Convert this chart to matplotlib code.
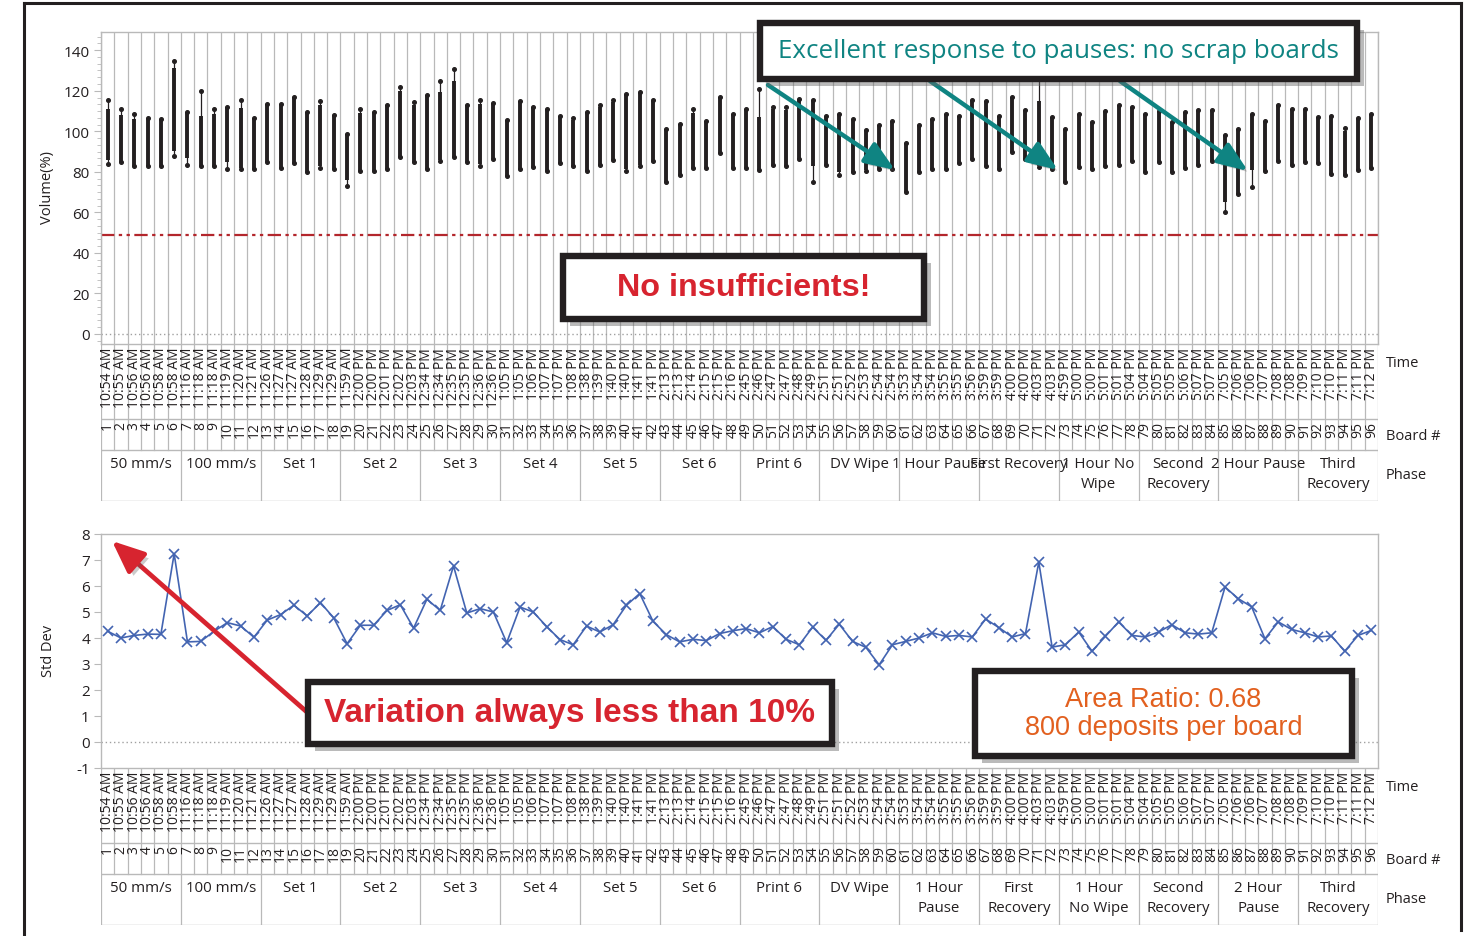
import matplotlib
matplotlib.use("Agg")
import matplotlib.pyplot as plt
import matplotlib.patheffects as pe
from matplotlib.patches import Rectangle, FancyArrowPatch
from matplotlib.ticker import AutoMinorLocator

plt.rcParams['font.family'] = ['Open Sans', 'DejaVu Sans']
plt.rcParams['axes.unicode_minus'] = False

boards = list(range(1, 97))
times = ["10:54 AM", "10:55 AM", "10:56 AM", "10:56 AM", "10:58 AM", "10:58 AM",
         "11:16 AM", "11:18 AM", "11:18 AM", "11:19 AM", "11:20 AM", "11:21 AM",
         "11:26 AM", "11:27 AM", "11:27 AM", "11:28 AM", "11:29 AM", "11:29 AM",
         "11:59 AM", "12:00 PM", "12:00 PM", "12:01 PM", "12:02 PM", "12:03 PM",
         "12:34 PM", "12:34 PM", "12:35 PM", "12:35 PM", "12:36 PM", "12:36 PM",
         "1:05 PM", "1:05 PM", "1:06 PM", "1:07 PM", "1:07 PM", "1:08 PM",
         "1:38 PM", "1:39 PM", "1:40 PM", "1:40 PM", "1:41 PM", "1:41 PM",
         "2:13 PM", "2:13 PM", "2:14 PM", "2:15 PM", "2:15 PM", "2:16 PM",
         "2:45 PM", "2:46 PM", "2:47 PM", "2:47 PM", "2:48 PM", "2:49 PM",
         "2:51 PM", "2:51 PM", "2:52 PM", "2:53 PM", "2:54 PM", "2:54 PM",
         "3:53 PM", "3:54 PM", "3:54 PM", "3:55 PM", "3:55 PM", "3:56 PM",
         "3:59 PM", "3:59 PM", "4:00 PM", "4:00 PM", "4:03 PM", "4:03 PM",
         "4:59 PM", "5:00 PM", "5:00 PM", "5:01 PM", "5:01 PM", "5:04 PM",
         "5:04 PM", "5:05 PM", "5:05 PM", "5:06 PM", "5:07 PM", "5:07 PM",
         "7:05 PM", "7:06 PM", "7:06 PM", "7:07 PM", "7:08 PM", "7:08 PM",
         "7:09 PM", "7:10 PM", "7:10 PM", "7:11 PM", "7:11 PM", "7:12 PM"]
phases_top = ['50 mm/s', '100 mm/s', 'Set 1', 'Set 2', 'Set 3', 'Set 4', 'Set 5',
              'Set 6', 'Print 6', 'DV Wipe', '1 Hour Pause', 'First Recovery',
              '1 Hour No\nWipe', 'Second\nRecovery', '2 Hour Pause', 'Third\nRecovery']
phases_bottom = ['50 mm/s', '100 mm/s', 'Set 1', 'Set 2', 'Set 3', 'Set 4', 'Set 5',
                 'Set 6', 'Print 6', 'DV Wipe', '1 Hour\nPause', 'First\nRecovery',
                 '1 Hour\nNo Wipe', 'Second\nRecovery', '2 Hour\nPause', 'Third\nRecovery']

# volume range per board (thin line) and main body (thick line)
vol_min = [84, 85, 83, 83, 83, 88, 83.5, 83, 83, 81.5,
           81.5, 81.5, 85, 82, 84.5, 80, 82, 81.5, 73, 80.5,
           80.5, 81.5, 87.5, 85, 81.5, 85.5, 87.5, 85, 83, 86.5,
           78, 81.5, 82.5, 80.5, 84.5, 83, 80.5, 83.5, 86, 80.5,
           83, 85.5, 75, 78.5, 82, 82, 89.5, 82, 82, 81,
           83.5, 83, 86.5, 75, 83.5, 78.5, 80, 80.5, 81.5, 81.5,
           70, 80, 81.5, 81.5, 84.5, 86.5, 83, 81.5, 90, 86.5,
           82.5, 81.5, 75, 82.5, 81.5, 83, 83.5, 85.5, 80, 85,
           80, 82, 83.5, 85.5, 60, 69, 72.5, 80.5, 85.5, 83.5,
           85, 84.5, 79, 78.5, 81, 82]
vol_max = [115.5, 111, 108.5, 106.5, 106, 134.5, 109.5, 120, 111, 112,
           115.5, 106.5, 113.5, 113.5, 117, 109.5, 115, 108, 98.5, 111,
           109.5, 113, 122, 114.5, 118, 125, 130.5, 113, 115.5, 114,
           105.5, 115, 112, 111, 107.5, 106.5, 109.5, 113, 115.5, 118.5,
           119.5, 115.5, 101, 103.5, 111, 105, 117, 108.5, 111, 121,
           112, 112, 116, 115.5, 107.5, 108.5, 106, 100.5, 103, 105,
           94, 103, 106, 108.5, 107.5, 115.5, 115, 107.5, 117, 110.5,
           126, 107, 101, 108.5, 104.5, 110, 113, 112, 108.5, 110,
           104.5, 109.5, 110.5, 110.5, 98, 101, 108.5, 105, 113, 111,
           111, 107, 107.5, 101.5, 106.5, 108.5]
box_lo = [86, 85, 83, 83, 83, 90.5, 87, 83, 83, 85,
          82, 81.5, 85, 82, 84.5, 80, 83, 81.5, 76, 80.5,
          80.5, 81.5, 87.5, 85, 81.5, 86, 87.5, 85, 84, 86.5,
          78, 81.5, 82.5, 80.5, 84.5, 83, 80.5, 83.5, 86, 81.5,
          83.5, 85.5, 75, 78.5, 82, 82, 89.5, 82, 82, 81,
          83.5, 83, 86.5, 83, 83.5, 80, 80, 81, 81.5, 81.5,
          70, 80, 81.5, 81.5, 84.5, 86.5, 83, 81.5, 90, 86.5,
          83, 81.5, 75, 82.5, 81.5, 83, 83.5, 85.5, 80, 85,
          80, 82, 83.5, 85.5, 65, 69, 81, 80.5, 85.5, 83.5,
          85, 84.5, 79, 78.5, 81, 82]
box_hi = [111, 108, 106, 106.5, 106, 131, 109.5, 107.5, 108.5, 112,
          111.5, 106.5, 113.5, 113.5, 117, 109.5, 113, 108, 98.5, 109,
          109.5, 113, 120, 113, 118, 119.5, 125, 113, 113.5, 114,
          105.5, 115, 112, 111, 107.5, 105.5, 109.5, 112, 114.5, 118,
          119, 115, 101, 103.5, 109, 105, 117, 108.5, 111, 107,
          111, 110.5, 116, 115.5, 107.5, 108.5, 105.5, 100.5, 103, 105,
          94, 103, 106, 108.5, 107.5, 115.5, 115, 107.5, 117, 110.5,
          115, 107, 101, 108.5, 104.5, 110, 113, 112, 108.5, 110,
          104.5, 109.5, 110.5, 110.5, 98, 101, 108.5, 105, 113, 111,
          111, 107, 107.5, 100, 106.5, 108.5]
insufficient_limit = 49

std_dev = [4.26, 4.0, 4.1, 4.15, 4.14, 7.24, 3.85, 3.87, 4.26, 4.59,
           4.46, 4.03, 4.69, 4.9, 5.26, 4.85, 5.36, 4.77, 3.78, 4.49,
           4.49, 5.06, 5.28, 4.38, 5.49, 5.06, 6.77, 4.96, 5.13, 5.0,
           3.82, 5.19, 5.0, 4.44, 3.94, 3.74, 4.46, 4.23, 4.51, 5.26,
           5.71, 4.64, 4.13, 3.85, 3.95, 3.9, 4.17, 4.28, 4.36, 4.2,
           4.44, 3.95, 3.74, 4.42, 3.91, 4.53, 3.87, 3.64, 2.97, 3.74,
           3.87, 4.0, 4.2, 4.06, 4.1, 4.04, 4.73, 4.4, 4.04, 4.17,
           6.92, 3.65, 3.74, 4.23, 3.49, 4.06, 4.62, 4.1, 4.04, 4.23,
           4.51, 4.2, 4.15, 4.2, 5.96, 5.51, 5.2, 3.97, 4.62, 4.33,
           4.2, 4.04, 4.08, 3.49, 4.1, 4.29]

W, H = 1467, 937
GRID = '#b9b9b9'
INK = '#231f20'
TEAL = '#0f8482'
RED = '#d7242f'
ORANGE = '#e2601f'

fig = plt.figure(figsize=(W / 100, H / 100), dpi=100)


def rect_px(l, t, r, b):
    return [l / W, 1 - b / H, (r - l) / W, (b - t) / H]


def style_axes(ax):
    ax.set_xlim(0.5, 96.5)
    ax.set_xticks([])
    for s in ax.spines.values():
        s.set_color(GRID)
        s.set_linewidth(1)
    ax.tick_params(axis='y', which='major', length=5, color=GRID, labelsize=11,
                   labelcolor=INK, pad=3)


def draw_table(top, phase_labels):
    tb = fig.add_axes(rect_px(101, top, 1378, top + 157))
    tb.set_xlim(0.5, 96.5)
    tb.set_ylim(157, 0)
    tb.axis('off')
    for k in range(97):
        tb.plot([k + 0.5, k + 0.5], [0, 106], color=GRID, lw=0.9)
    for k in range(0, 97, 6):
        tb.plot([k + 0.5, k + 0.5], [106, 157], color=GRID, lw=0.9)
    for yy in (75, 106, 157):
        tb.plot([0.5, 96.5], [yy, yy], color=GRID, lw=1)
    for b, t in zip(boards, times):
        tb.text(b, 3, t, rotation=90, ha='center', va='top', fontsize=10, color=INK)
        tb.text(b, 77, str(b), rotation=90, ha='center', va='top', fontsize=10, color=INK)
    for j, lab in enumerate(phase_labels):
        tb.text(6 * j + 3.5, 106 + 6, lab, ha='center', va='top', fontsize=10.8,
                color=INK, linespacing=1.45)


# ---- top: volume ----
ax1 = fig.add_axes(rect_px(101, 33, 1378, 345))
style_axes(ax1)
ax1.set_ylim(-5, 149)
for k in range(97):
    ax1.axvline(k + 0.5, color=GRID, lw=0.9, zorder=1)
ax1.axhline(0, color='#a0a0a0', lw=1, ls=(0, (1, 2)), zorder=1)
ax1.axhline(insufficient_limit, color='#b3262c', lw=1.6,
            ls=(0, (6, 2, 1.5, 2, 1.5, 2)), zorder=2)
ax1.vlines(boards, vol_min, vol_max, color=INK, lw=0.9, zorder=3)
ax1.vlines(boards, box_lo, box_hi, color=INK, lw=2.8, zorder=3)
ax1.plot(boards, vol_min, 'o', ms=2.6, color=INK, zorder=4)
ax1.plot(boards, vol_max, 'o', ms=2.6, color=INK, zorder=4)
ax1.set_yticks(range(0, 141, 20))
ax1.yaxis.set_minor_locator(AutoMinorLocator(6))
ax1.tick_params(axis='y', which='minor', length=3, color=GRID)
draw_table(345, phases_top)

# ---- bottom: std dev ----
ax2 = fig.add_axes(rect_px(101, 535, 1378, 769))
style_axes(ax2)
ax2.set_ylim(-1, 8)
ax2.set_yticks(range(-1, 9))
ax2.axhline(0, color='#a0a0a0', lw=1, ls=(0, (1, 2)), zorder=1)
ax2.plot(boards, std_dev, color='#4364b1', lw=1.2, marker='x', ms=7, mew=1.2, zorder=3)
draw_table(769, phases_bottom)

# ---- overlay in pixel coordinates ----
ov = fig.add_axes([0, 0, 1, 1], zorder=10)
ov.set_xlim(0, W)
ov.set_ylim(H, 0)
ov.axis('off')

ov.plot([24, 24], [4, H], color=INK, lw=2.2)
ov.plot([24, 1461], [4, 4], color=INK, lw=2.2)
ov.plot([1461, 1461], [4, 931], color=INK, lw=2.2)

ov.text(48, 188, 'Volume(%)', rotation=90, ha='center', va='center', fontsize=10.5, color=INK)
ov.text(48, 651, 'Std Dev', rotation=90, ha='center', va='center', fontsize=10.5, color=INK)
for y0 in (345, 769):
    ov.text(1386, y0 + 19, 'Time', va='center', fontsize=10.5, color=INK)
    ov.text(1386, y0 + 92, 'Board #', va='center', fontsize=10.5, color=INK)
    ov.text(1386, y0 + 131, 'Phase', va='center', fontsize=10.5, color=INK)

arrow_fx = [pe.withSimplePatchShadow(offset=(3, -3), shadow_rgbFace='#555555', alpha=0.3)]
for (x0, y0), (x1, y1) in [((768, 86), (895, 171)), ((930, 82), (1058, 171)),
                           ((1120, 82), (1248, 172))]:
    ov.add_patch(FancyArrowPatch((x0, y0), (x1, y1), arrowstyle='-|>,head_length=1.4,head_width=0.55',
                                 mutation_scale=13, lw=3.2, color=TEAL, shrinkA=0, shrinkB=0,
                                 path_effects=arrow_fx))
ov.add_patch(FancyArrowPatch((308, 714), (112, 542), arrowstyle='-|>,head_length=1.4,head_width=0.6',
                             mutation_scale=14, lw=3.4, color=RED, shrinkA=0, shrinkB=0,
                             path_effects=arrow_fx))


def callout(l, t, r, b, text, color, size, weight='normal', family=None):
    ov.add_patch(Rectangle((l, t), r - l, b - t, facecolor='white', edgecolor=INK, lw=4.6,
                           path_effects=[pe.withSimplePatchShadow(offset=(5, -5), shadow_rgbFace='#666666',
                                                                 alpha=0.45)]))
    ov.text((l + r) / 2, (t + b) / 2, text, ha='center', va='center', color=color,
            fontsize=size, fontweight=weight, family=family or ['Open Sans', 'DejaVu Sans'],
            linespacing=1.1)


callout(760, 24, 1357, 80, 'Excellent response to pauses: no scrap boards', TEAL, 18.7)
callout(563, 257, 924, 320, 'No insufficients!', RED, 23.3, 'bold', ['Liberation Sans', 'DejaVu Sans'])
callout(308, 683, 832, 745, 'Variation always less than 10%', RED, 24, 'bold',
        ['Liberation Sans', 'DejaVu Sans'])
callout(975, 672, 1352, 757, 'Area Ratio: 0.68\n800 deposits per board', ORANGE, 19.5, 'normal',
        ['Liberation Sans', 'DejaVu Sans'])

fig.savefig('out.png', dpi=100)
